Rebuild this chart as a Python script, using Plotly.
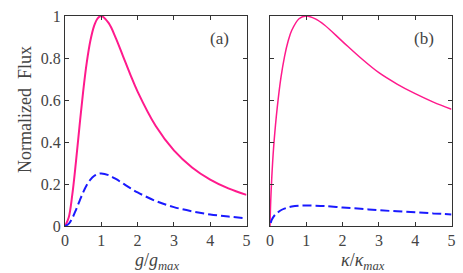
import plotly.graph_objects as go

# Panel (a): normalized flux vs g/g_max
xa = [0, 0.1, 0.2, 0.3, 0.4, 0.5, 0.6, 0.7, 0.8, 0.9, 1.0, 1.2, 1.4, 1.6, 1.8,
      2.0, 2.5, 3.0, 3.5, 4.0, 4.5, 5.0]
pink_a = [0, 0.039, 0.148, 0.303, 0.476, 0.64, 0.779, 0.883, 0.952, 0.989, 1.0,
          0.967, 0.895, 0.808, 0.721, 0.64, 0.476, 0.36, 0.279, 0.221, 0.179, 0.148]
blue_a = [0, 0.010, 0.037, 0.076, 0.119, 0.16, 0.195, 0.221, 0.238, 0.247, 0.25,
          0.242, 0.224, 0.202, 0.180, 0.16, 0.119, 0.09, 0.070, 0.055, 0.045, 0.037]

# Panel (b): normalized flux vs kappa/kappa_max
xb = [0, 0.02, 0.05, 0.1, 0.15, 0.2, 0.3, 0.4, 0.5, 0.6, 0.8, 1.0, 1.25, 1.5,
      2.0, 2.5, 3.0, 3.5, 4.0, 4.5, 5.0]
pink_b = [0, 0.120, 0.235, 0.375, 0.478, 0.565, 0.705, 0.807, 0.881, 0.932, 0.987,
          1.0, 0.986, 0.957, 0.878, 0.800, 0.730, 0.676, 0.630, 0.590, 0.556]
xb_blue = xb[1:]
blue_b = [0.015, 0.03, 0.045, 0.055, 0.062, 0.075, 0.083, 0.089, 0.093, 0.097,
          0.098, 0.097, 0.095, 0.088, 0.082, 0.075, 0.070, 0.065, 0.060, 0.055]

xticks = [0, 1, 2, 3, 4, 5]
yticks = [0, 0.2, 0.4, 0.6, 0.8, 1]
ytick_labels = ["0", "0.2", "0.4", "0.6", "0.8", "1"]

PINK = "#ff1a8c"
BLUE = "#1a1aff"
FONT = "Liberation Serif, DejaVu Serif, serif"
TXT = "#444444"

fig = go.Figure()
fig.add_trace(go.Scatter(x=xa, y=pink_a, mode="lines", line=dict(color=PINK, width=2, shape="spline"),
                         xaxis="x", yaxis="y", showlegend=False))
fig.add_trace(go.Scatter(x=xa, y=blue_a, mode="lines",
                         line=dict(color=BLUE, width=2, dash="9px,4px", shape="spline"),
                         xaxis="x", yaxis="y", showlegend=False))
fig.add_trace(go.Scatter(x=xb, y=pink_b, mode="lines", line=dict(color=PINK, width=1.5, shape="spline"),
                         xaxis="x2", yaxis="y2", showlegend=False))
fig.add_trace(go.Scatter(x=xb_blue, y=blue_b, mode="lines",
                         line=dict(color=BLUE, width=2, dash="9px,4px", shape="spline"),
                         xaxis="x2", yaxis="y2", showlegend=False))

W, H = 463, 273
ydom = [1 - 226 / H, 1 - 16 / H]
common_x = dict(range=[0, 5], tickvals=xticks, ticks="inside", ticklen=4, tickcolor="#333",
                showline=True, linecolor="#333", linewidth=1, mirror="ticks", showgrid=False,
                zeroline=False, tickfont=dict(family=FONT, size=16, color=TXT))
common_y = dict(range=[0, 1], tickvals=yticks, ticktext=ytick_labels, ticks="inside", ticklen=4,
                tickcolor="#333", showline=True, linecolor="#333", linewidth=1, mirror="ticks",
                showgrid=False, zeroline=False, tickfont=dict(family=FONT, size=16, color=TXT))

def ann(text, px, py, size, angle=0):
    return dict(text=text, x=px / W, y=1 - py / H, xref="paper", yref="paper",
                xanchor="center", yanchor="middle", textangle=angle, showarrow=False,
                font=dict(family=FONT, size=size, color=TXT))

fig.update_layout(
    width=W, height=H,
    margin=dict(l=0, r=0, t=0, b=0, autoexpand=False),
    paper_bgcolor="white", plot_bgcolor="white",
    xaxis=dict(domain=[65 / W, 246.5 / W], anchor="y", automargin=False, **common_x),
    yaxis=dict(domain=ydom, anchor="x", automargin=False, **common_y),
    xaxis2=dict(domain=[270 / W, 451.5 / W], anchor="y2", automargin=False, **common_x),
    yaxis2=dict(domain=ydom, anchor="x2", showticklabels=False, automargin=False, **common_y),
    annotations=[
        ann("Normalized&nbsp;&nbsp;Flux", 25, 110, 18, -90),
        ann("<i>g</i>/<i>g</i><sub><i>max</i></sub>", 157, 261, 18),
        ann("<i>κ</i>/<i>κ</i><sub><i>max</i></sub>", 363, 261, 18),
        ann("(a)", 219, 39, 17),
        ann("(b)", 424, 39, 17),
    ],
)

fig.write_html("out.html", config={"displayModeBar": False},
               post_script="document.body.style.margin='0';document.body.style.overflow='hidden';")
